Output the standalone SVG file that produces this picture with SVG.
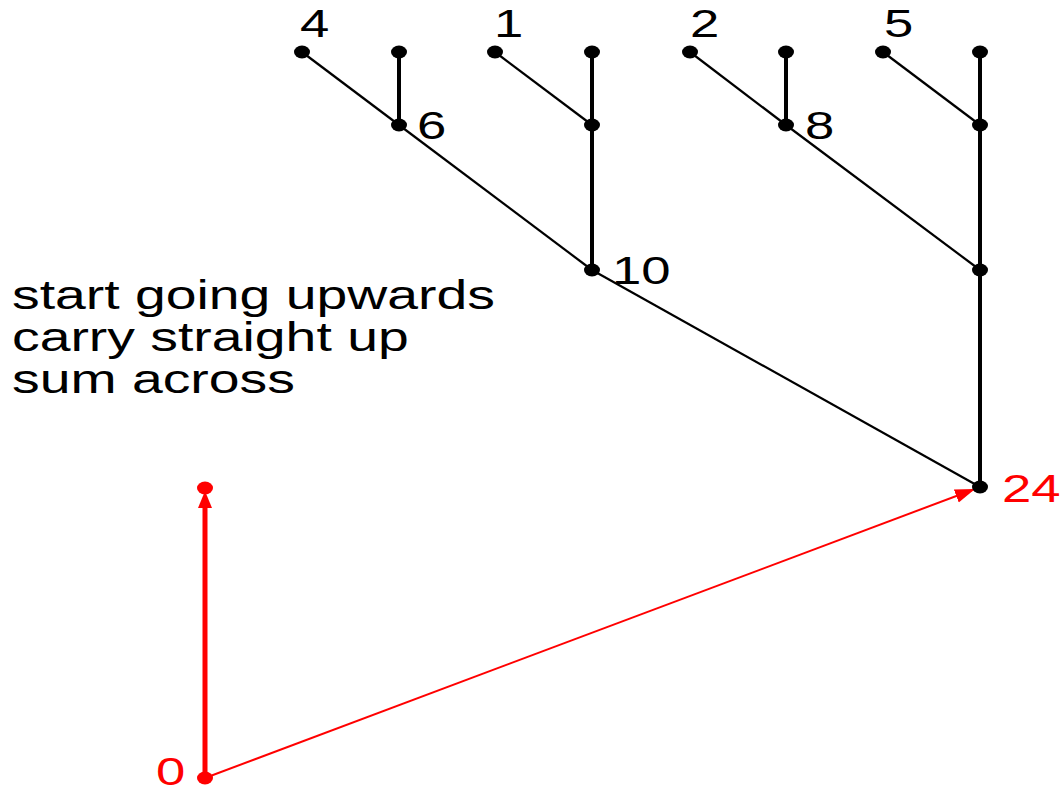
<svg xmlns="http://www.w3.org/2000/svg" width="1061" height="794" viewBox="0 0 1061 794">
<defs>
<style>
.thin{stroke:#000;stroke-width:2.2;fill:none}
.thick{stroke:#000;stroke-width:4;fill:none}
.dot{fill:#000}
.rdot{fill:#f00}
.lbl{font-family:"Liberation Sans",Arial,sans-serif;font-size:39px;fill:#000}
.cap{font-size:41px}
.rl{fill:#f00}
</style>
<marker id="ah" markerUnits="userSpaceOnUse" markerWidth="22" markerHeight="16" refX="20" refY="8" orient="auto">
<path d="M0,1 L20,8 L0,15 Z" fill="#f00"/>
</marker>
</defs>
<rect width="1061" height="794" fill="#fff"/>
<g id="connectors">
<line class="thin" x1="302" y1="52" x2="399" y2="125"/>
<line class="thin" x1="399" y1="125" x2="592" y2="270"/>
<line class="thin" x1="495" y1="52" x2="592" y2="125"/>
<line class="thin" x1="690" y1="52" x2="786" y2="125"/>
<line class="thin" x1="786" y1="125" x2="980" y2="270"/>
<line class="thin" x1="883" y1="52" x2="980" y2="125"/>
<line class="thin" x1="592" y1="270" x2="980" y2="487"/>
<line class="thick" x1="399" y1="52" x2="399" y2="125"/>
<line class="thick" x1="592" y1="52" x2="592" y2="270"/>
<line class="thick" x1="786" y1="52" x2="786" y2="125"/>
<line class="thick" x1="980" y1="52" x2="980" y2="487"/>
<line x1="205" y1="778" x2="205" y2="505" stroke="#f00" stroke-width="5"/>
<path d="M198,508 L205,491 L212,508 Z" fill="#f00"/>
<line x1="205" y1="778" x2="975" y2="489" stroke="#f00" stroke-width="2" marker-end="url(#ah)"/>
</g>
<g id="n-top">
<ellipse class="dot" cx="302" cy="52" rx="8" ry="6.5"/>
<ellipse class="dot" cx="399" cy="52" rx="8" ry="6.5"/>
<ellipse class="dot" cx="495" cy="52" rx="8" ry="6.5"/>
<ellipse class="dot" cx="592" cy="52" rx="8" ry="6.5"/>
<ellipse class="dot" cx="690" cy="52" rx="8" ry="6.5"/>
<ellipse class="dot" cx="786" cy="52" rx="8" ry="6.5"/>
<ellipse class="dot" cx="883" cy="52" rx="8" ry="6.5"/>
<ellipse class="dot" cx="980" cy="52" rx="8" ry="6.5"/>
<text class="lbl" transform="matrix(1.35 0 0 1 300 37)">4</text>
<text class="lbl" transform="matrix(1.35 0 0 1 494 37)">1</text>
<text class="lbl" transform="matrix(1.35 0 0 1 690 37)">2</text>
<text class="lbl" transform="matrix(1.35 0 0 1 884 37)">5</text>
</g>
<g id="n-level1">
<ellipse class="dot" cx="399" cy="125" rx="8" ry="6.5"/>
<ellipse class="dot" cx="592" cy="125" rx="8" ry="6.5"/>
<ellipse class="dot" cx="786" cy="125" rx="8" ry="6.5"/>
<ellipse class="dot" cx="980" cy="125" rx="8" ry="6.5"/>
<text class="lbl" transform="matrix(1.35 0 0 1 417 139)">6</text>
<text class="lbl" transform="matrix(1.35 0 0 1 805 139)">8</text>
</g>
<g id="n-level2">
<ellipse class="dot" cx="592" cy="270" rx="8" ry="6.5"/>
<ellipse class="dot" cx="980" cy="270" rx="8" ry="6.5"/>
<text class="lbl" transform="matrix(1.35 0 0 1 612 284)">10</text>
</g>
<g id="n-24">
<ellipse class="dot" cx="980" cy="487" rx="8" ry="6.5"/>
<text class="lbl rl" transform="matrix(1.35 0 0 1 1002 502)">24</text>
</g>
<g id="n-0">
<ellipse class="rdot" cx="205" cy="778" rx="8" ry="6.5"/>
<ellipse class="rdot" cx="205" cy="488" rx="8" ry="6.5"/>
<text class="lbl rl" transform="matrix(1.35 0 0 1 156 785)">0</text>
</g>
<g id="caption">
<text class="lbl cap" transform="matrix(1.35 0 0 1 12 309)">start going upwards</text>
<text class="lbl cap" transform="matrix(1.35 0 0 1 12 351)">carry straight up</text>
<text class="lbl cap" transform="matrix(1.35 0 0 1 12 393)">sum across</text>
</g>
</svg>
